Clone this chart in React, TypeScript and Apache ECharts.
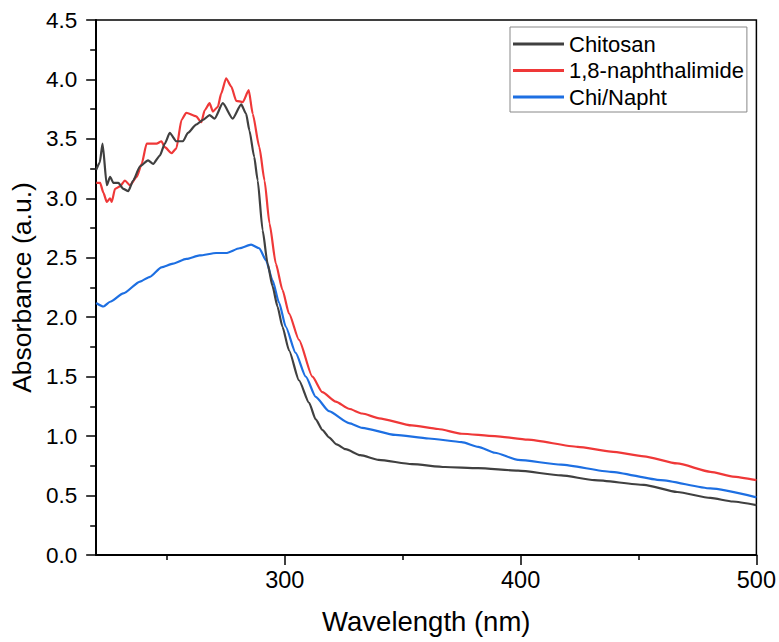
import React, { useEffect, useRef } from "react";
import * as echarts from "echarts";

const chitosanWl = [220, 221.5, 222.7, 224.5, 225.9, 227.3, 229.4, 231.5, 233.6, 235.7, 238.6, 242, 244.2, 247, 249.1, 251.2, 254, 256.8, 258.9, 262.4, 265.3, 268.1, 270.2, 273.7, 277.9, 281.5, 283.6, 285, 287, 288.5, 290.6, 292.7, 294.8, 296.9, 299, 301.8, 306, 310.3, 313.1, 316, 318.7, 322, 325.8, 332, 339.8, 353.9, 368, 382, 398.9, 417.2, 431.3, 452.3, 466.4, 480.5, 490, 500];
const chitosanAbs = [3.24, 3.3, 3.46, 3.11, 3.18, 3.13, 3.13, 3.08, 3.06, 3.15, 3.27, 3.32, 3.29, 3.36, 3.46, 3.55, 3.48, 3.48, 3.55, 3.62, 3.66, 3.7, 3.67, 3.8, 3.67, 3.79, 3.71, 3.57, 3.35, 3.15, 2.73, 2.45, 2.26, 2.09, 1.92, 1.72, 1.47, 1.28, 1.14, 1.05, 0.99, 0.93, 0.89, 0.84, 0.8, 0.765, 0.74, 0.73, 0.71, 0.67, 0.63, 0.59, 0.53, 0.48, 0.45, 0.42];

const naphWl = [220, 221.7, 223, 224.5, 225.9, 226.6, 228, 230.1, 232.2, 234.3, 237.2, 239.3, 241.4, 243.5, 245.6, 247.7, 249.1, 252, 254, 256.2, 258.2, 262.4, 264.6, 266, 268.1, 269.5, 271.6, 273, 275.1, 277.3, 279.4, 282.2, 284.7, 286.4, 289.2, 291.4, 293.5, 296.2, 299, 301.8, 306, 311.7, 315.9, 321.6, 327.2, 332.8, 340, 353.9, 365, 375, 389.1, 403.1, 424.2, 438.3, 452.3, 466.4, 480.5, 490, 500];
const naphAbs = [3.13, 3.13, 3.05, 2.97, 3.0, 2.97, 3.08, 3.1, 3.15, 3.11, 3.18, 3.29, 3.46, 3.46, 3.46, 3.48, 3.43, 3.38, 3.42, 3.66, 3.72, 3.69, 3.64, 3.74, 3.8, 3.73, 3.77, 3.88, 4.01, 3.94, 3.82, 3.81, 3.91, 3.71, 3.43, 3.15, 2.79, 2.45, 2.23, 2.03, 1.81, 1.5, 1.37, 1.29, 1.23, 1.19, 1.15, 1.09, 1.06, 1.02, 1.0, 0.97, 0.91, 0.87, 0.83, 0.77, 0.7, 0.66, 0.63];

const chiNaphWl = [220, 223.1, 225.9, 231.5, 238.6, 242.8, 247.7, 252.6, 258.2, 263.9, 270.9, 275.1, 280.8, 285.7, 289.2, 292, 294.8, 297.6, 300.4, 304.6, 308.9, 313.1, 318.7, 327.2, 332.8, 346.9, 361, 375, 382, 389.1, 398.9, 417.2, 438.3, 459.4, 480.5, 500];
const chiNaphAbs = [2.12, 2.09, 2.13, 2.2, 2.3, 2.34, 2.42, 2.45, 2.49, 2.52, 2.54, 2.54, 2.58, 2.61, 2.58, 2.48, 2.31, 2.12, 1.92, 1.7, 1.5, 1.33, 1.21, 1.11, 1.07, 1.01, 0.98, 0.95, 0.91, 0.86, 0.8, 0.76, 0.7, 0.63, 0.56, 0.485];

const xMajorTicks = [300, 400, 500];
const xMinorTicks = [250, 350, 450];
const seriesNames = ["Chitosan", "1,8-naphthalimide", "Chi/Napht"];
const seriesColors = ["#404040", "#ef3838", "#1d6fe2"];

const FONT = "'Liberation Sans', Arial, sans-serif";

function pairs(xs: number[], ys: number[]) {
  return xs.map((x, i) => [x, ys[i]]);
}

export default function App() {
  const ref = useRef<HTMLDivElement>(null);
  useEffect(() => {
    if (!ref.current) return;
    const chart = echarts.init(ref.current, null, { renderer: "svg" });
    const datasets = [
      pairs(chitosanWl, chitosanAbs),
      pairs(naphWl, naphAbs),
      pairs(chiNaphWl, chiNaphAbs),
    ];
    chart.setOption({
      animation: false,
      backgroundColor: "#ffffff",
      grid: {
        left: 96,
        right: 20,
        top: 20,
        bottom: 87,
        show: true,
        borderColor: "#000",
        borderWidth: 1.5,
      },
      legend: {
        orient: "vertical",
        left: 510,
        top: 27,
        padding: [6, 3, 4, 3],
        borderColor: "#888",
        borderWidth: 1,
        itemWidth: 51,
        itemHeight: 3,
        itemGap: 4.5,
        icon: "rect",
        data: seriesNames,
        textStyle: { fontFamily: FONT, fontSize: 22, color: "#000", lineHeight: 22 },
      },
      xAxis: [
        {
          type: "value",
          min: 220,
          max: 500,
          name: "Wavelength (nm)",
          nameLocation: "middle",
          nameGap: 52,
          nameTextStyle: { fontFamily: FONT, fontSize: 27.5, color: "#000" },
          axisLine: { show: true, onZero: false, lineStyle: { color: "#000", width: 2 } },
          axisTick: { show: true, inside: false, length: 10, lineStyle: { color: "#000", width: 1.5 }, customValues: xMajorTicks },
          axisLabel: { fontFamily: FONT, fontSize: 23.5, color: "#000", margin: 13, customValues: xMajorTicks },
          splitLine: { show: false },
        },
        {
          type: "value",
          min: 220,
          max: 500,
          position: "bottom",
          axisLine: { show: false },
          axisTick: { show: true, inside: false, length: 5, lineStyle: { color: "#000", width: 1.5 }, customValues: xMinorTicks },
          axisLabel: { show: false },
          splitLine: { show: false },
        },
      ],
      yAxis: {
        type: "value",
        min: 0,
        max: 4.5,
        interval: 0.5,
        name: "Absorbance (a.u.)",
        nameLocation: "middle",
        nameGap: 56,
        nameTextStyle: { fontFamily: FONT, fontSize: 26.5, color: "#000" },
        axisLine: { show: true, onZero: false, lineStyle: { color: "#000", width: 2 } },
        axisTick: { show: true, inside: false, length: 10, lineStyle: { color: "#000", width: 1.5 } },
        minorTick: { show: true, splitNumber: 2, length: 6, lineStyle: { color: "#000", width: 1.5 } },
        axisLabel: {
          fontFamily: FONT,
          fontSize: 22.5,
          color: "#000",
          margin: 19,
          formatter: (v: number) => v.toFixed(1),
        },
        splitLine: { show: false },
      },
      series: datasets.map((d, i) => ({
        name: seriesNames[i],
        type: "line",
        xAxisIndex: 0,
        data: d,
        symbol: "none",
        smooth: 0.2,
        smoothMonotone: "x",
        lineStyle: { color: seriesColors[i], width: 2.2 },
        itemStyle: { color: seriesColors[i] },
        z: 3 - i,
      })),
    });
    return () => chart.dispose();
  }, []);
  return <div ref={ref} style={{ width: 779, height: 642, position: "absolute", left: 0, top: 0 }} />;
}
